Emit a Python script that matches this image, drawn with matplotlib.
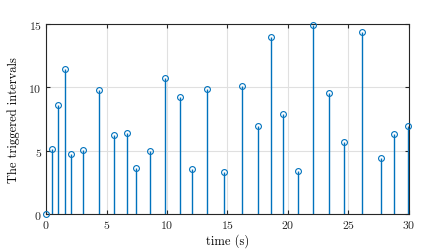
import matplotlib
matplotlib.use("Agg")
import matplotlib.pyplot as plt

plt.rcParams['font.family'] = 'cmr10'
plt.rcParams['mathtext.fontset'] = 'cm'
plt.rcParams['axes.formatter.use_mathtext'] = True

# data
t = [0.0, 0.47, 1.02, 1.54, 2.04, 3.06, 4.41, 5.62, 6.72, 7.46, 8.62, 9.86,
     11.10, 12.07, 13.28, 14.68, 16.23, 17.49, 18.57, 19.59, 20.83, 22.04,
     23.39, 24.63, 26.09, 27.69, 28.79, 29.95]
intervals = [0.0, 5.13, 8.6, 11.44, 4.76, 5.08, 9.81, 6.24, 6.39, 3.63, 5.0,
             10.71, 9.26, 3.53, 9.89, 3.29, 10.13, 6.95, 13.95, 7.92, 3.39,
             14.89, 9.53, 5.68, 14.39, 4.39, 6.34, 6.95]
xticks = [0, 5, 10, 15, 20, 25, 30]
yticks = [0, 5, 10, 15]

color = '#0072BD'

fig = plt.figure(figsize=(4.24, 2.51), dpi=100)
ax = fig.add_axes([0.1085, 0.1434, 0.8561, 0.757])

ml, sl, bl = ax.stem(t, intervals, basefmt=' ')
plt.setp(sl, color=color, linewidth=1.0)
plt.setp(ml, color=color, marker='o', markerfacecolor='none',
         markeredgecolor=color, markersize=4.2, markeredgewidth=0.8,
         clip_on=False, zorder=3)
bl.set_visible(False)

ax.set_xlim(0, 30)
ax.set_ylim(0, 15)
ax.set_xticks(xticks)
ax.set_yticks(yticks)
ax.grid(True, color='#e0e0e0', linewidth=0.8)
ax.set_axisbelow(True)
ax.tick_params(direction='in', length=3, width=0.8, top=True, right=True,
               labelsize=8.5, pad=3, colors='#262626')
for s in ax.spines.values():
    s.set_color('#262626')
    s.set_linewidth(0.8)

ax.set_xlabel('time (s)', fontsize=9, labelpad=2)
ax.set_ylabel('The triggered intervals', fontsize=9, labelpad=6)

fig.savefig('out.png', dpi=100)
